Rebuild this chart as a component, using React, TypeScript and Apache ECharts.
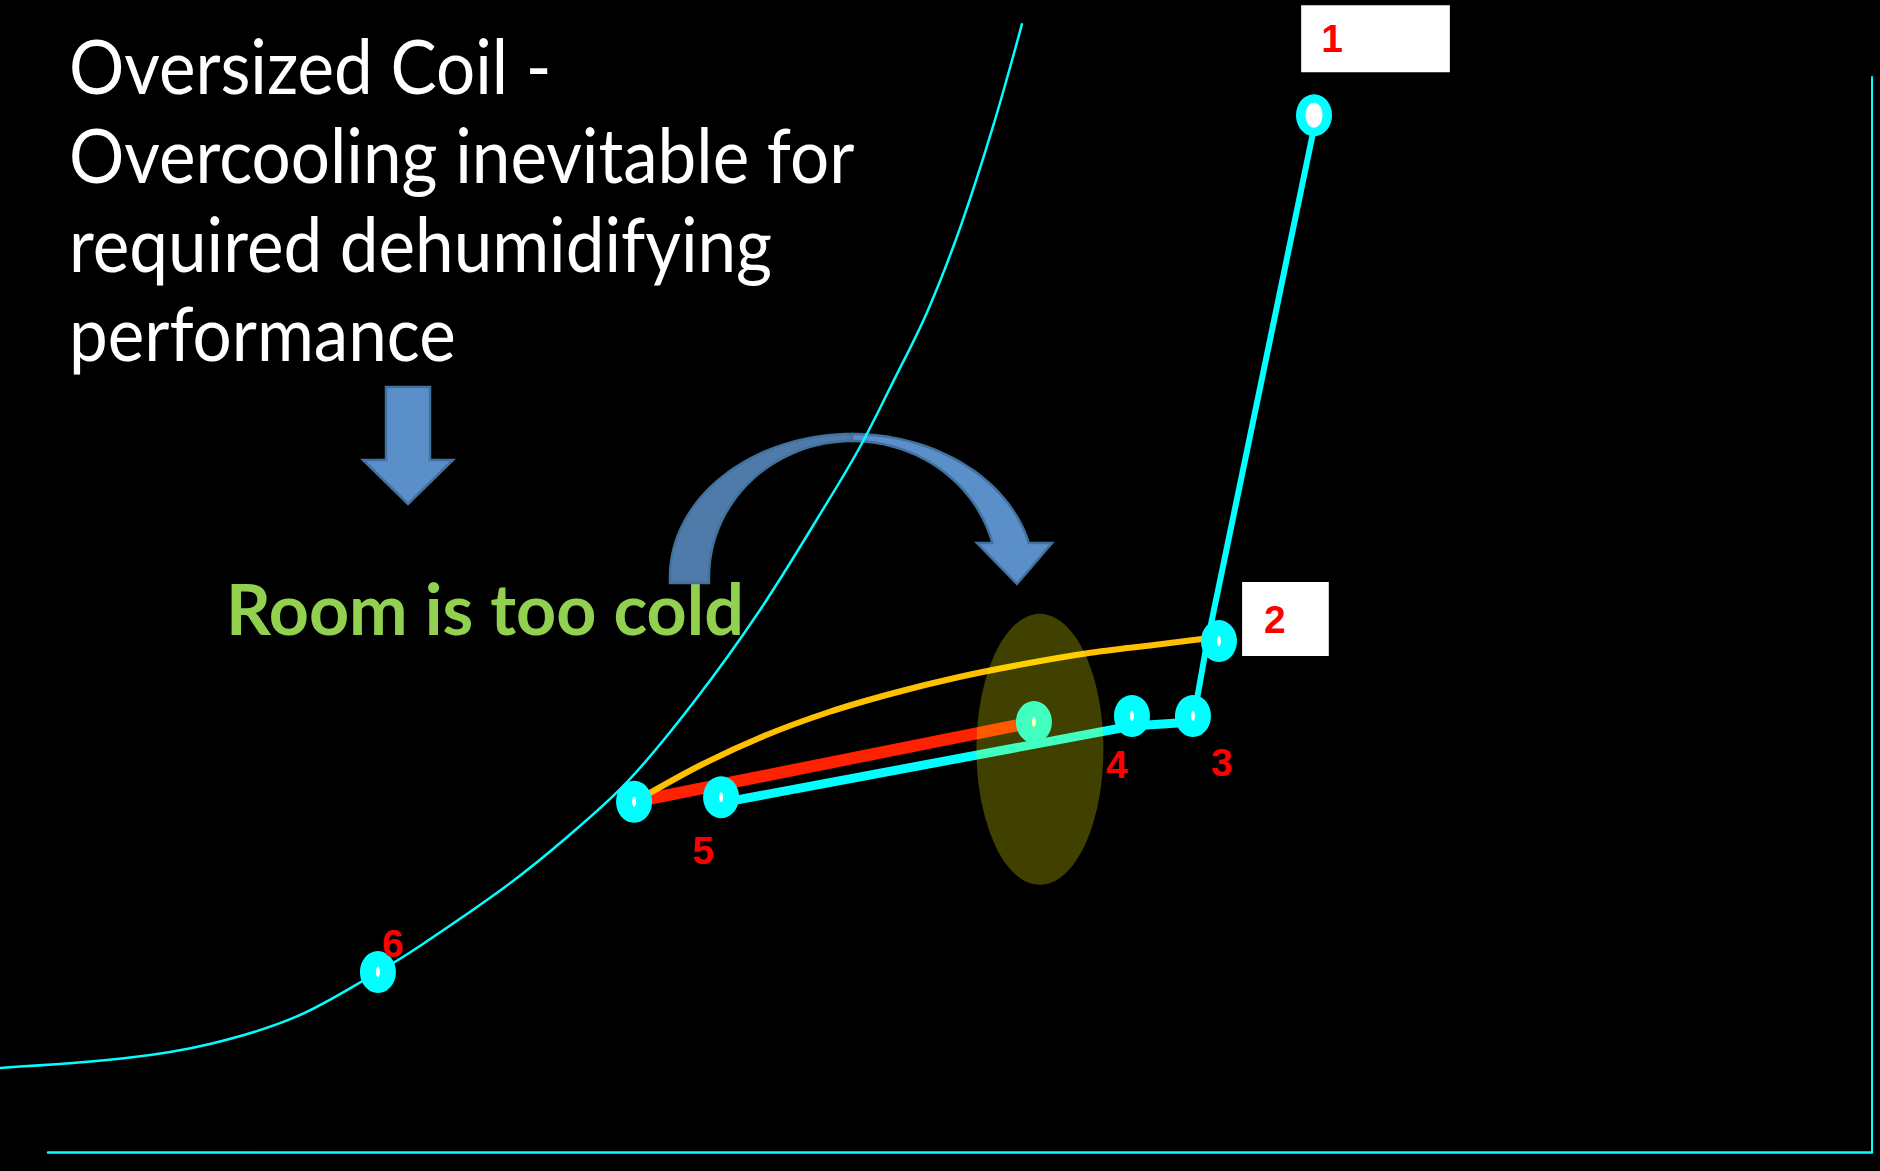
import React, { useEffect, useRef } from "react";
import * as echarts from "echarts";

// Saturation curve: dry-bulb temperature (°F) and humidity ratio (gr/lb)
const saturationT = [20.0, 26.73, 31.22, 35.77, 40.2, 42.5, 46.99, 50.14, 53.51, 57.04, 60.62, 64.2, 65.96, 67.73, 69.55, 71.31, 73.07, 74.62];
const saturationW = [14.6, 16.3, 18.75, 23.4, 31.25, 35.9, 46.0, 54.2, 64.2, 77.95, 94.1, 112.7, 122.4, 133.7, 145.8, 160.4, 178.0, 195.8];

// State points (numbered ones carry a label, the last two are unlabelled)
const stateNames = ["1", "2", "3", "4", "5", "6", "", ""];
const stateT = [90.23, 85.15, 83.76, 80.5, 58.54, 40.2, 53.89, 75.26];
const stateW = [180.0, 88.7, 75.7, 75.7, 61.6, 31.25, 60.8, 74.65];

// Process line 1 → 2 → 3 → 4 → 5
const processT = [90.34, 84.46, 83.76, 80.5, 58.54];
const processW = [179.5, 87.5, 74.65, 73.96, 60.6];

// Straight coil line (red) and reheat curve (yellow)
const coilT = [53.89, 75.26];
const coilW = [60.8, 74.65];
const reheatT = [53.89, 57.36, 60.83, 64.31, 67.78, 71.26, 74.73, 78.2, 81.68, 85.1];
const reheatW = [60.76, 67.01, 72.22, 76.39, 79.69, 82.47, 84.72, 86.63, 88.02, 89.41];

// Highlighted zone
const zoneT = [75.58];
const zoneW = [69.9];

const headline = [
  "Oversized Coil -",
  "Overcooling inevitable for",
  "required dehumidifying",
  "performance",
];
const callout = "Room is too cold";

const pairs = (xs: number[], ys: number[]) => xs.map((x, i) => [x, ys[i]]);

// Label placement per state point (pixel offsets from the marker centre)
const labelStyles: Record<string, any> = {
  "1": { offset: [61.5, -76.5], backgroundColor: "#ffffff", padding: [0, 107, 0, 20], lineHeight: 67 },
  "2": { offset: [66.5, -22], backgroundColor: "#ffffff", padding: [0, 43, 0, 22], lineHeight: 74 },
  "3": { offset: [29, 47] },
  "4": { offset: [-15, 49] },
  "5": { offset: [-18, 53] },
  "6": { offset: [15, -29] },
};

function arcPoints(cx: number, cy: number, rx: number, ry: number, a0: number, a1: number, n: number) {
  const pts: number[][] = [];
  for (let i = 0; i <= n; i++) {
    const a = a0 + ((a1 - a0) * i) / n;
    pts.push([cx + rx * Math.cos(a), cy - ry * Math.sin(a)]);
  }
  return pts;
}

// Curved "U-turn" arrow built from two elliptical bands
const ACX = 852;
const ACY = 577;
const backBand = [
  [670, 583],
  ...arcPoints(ACX, ACY, 182, 143, Math.PI, Math.PI / 2, 40),
  ...arcPoints(ACX, ACY, 143, 136, Math.PI / 2, Math.PI, 40),
  [709, 583],
];
const thetaOuter = Math.asin(34 / 143);
const thetaInner = Math.asin(34 / 136);
const frontBand = [
  ...arcPoints(ACX, ACY, 182, 143, Math.PI / 2, thetaOuter, 40),
  [1052, 543],
  [1017, 584],
  [977, 543],
  ...arcPoints(ACX, ACY, 145, 136, thetaInner, Math.PI / 2, 40),
];
const downArrow = [
  [386, 387], [430, 387], [430, 460], [453, 460], [408, 504], [363, 460], [386, 460],
];

export default function App() {
  const ref = useRef<HTMLDivElement>(null);

  useEffect(() => {
    document.body.style.margin = "0";
    document.body.style.background = "#000";
    const chart = echarts.init(ref.current!, undefined, { renderer: "svg" });

    const markerData = stateNames.map((name, i) => {
      const item: any = { name, value: [stateT[i], stateW[i]] };
      const ls = labelStyles[name];
      if (ls) {
        item.label = {
          show: true,
          position: "inside",
          formatter: name,
          color: "#FF0000",
          fontFamily: "Liberation Sans",
          fontWeight: "bold",
          fontSize: 39,
          ...ls,
        };
      }
      return item;
    });

    const glintData = stateNames.map((name, i) => ({
      value: [stateT[i], stateW[i]],
      symbolSize: i === 0 ? [17, 25] : [4, 10],
    }));

    const lineSeries = (name: string, data: number[][], color: string, width: number, smooth: boolean | number) => ({
      name,
      type: "line",
      xAxisIndex: 0,
      yAxisIndex: 0,
      data,
      smooth,
      showSymbol: false,
      silent: true,
      z: 3,
      lineStyle: { color, width, cap: "round", join: "round" },
    });

    chart.setOption({
      animation: false,
      backgroundColor: "#000000",
      grid: [
        { left: 0, right: 9, top: 0, bottom: 19 },
        { left: 48, right: 8, top: 77, bottom: 19 },
      ],
      xAxis: [
        { gridIndex: 0, type: "value", min: 20, max: 120, show: false },
        {
          gridIndex: 1, type: "value", min: 0, max: 1,
          axisLine: { show: true, onZero: false, lineStyle: { color: "#00FFFF", width: 2.5 } },
          axisTick: { show: false }, axisLabel: { show: false }, splitLine: { show: false },
        },
      ],
      yAxis: [
        { gridIndex: 0, type: "value", min: 0, max: 200, show: false },
        {
          gridIndex: 1, type: "value", min: 0, max: 1, position: "right",
          axisLine: { show: true, onZero: false, lineStyle: { color: "#00FFFF", width: 2 } },
          axisTick: { show: false }, axisLabel: { show: false }, splitLine: { show: false },
        },
      ],
      graphic: [
        ...headline.map((line, i) => ({
          type: "text",
          x: 69,
          y: 64 + i * 89,
          scaleX: 0.91,
          z: 1,
          silent: true,
          style: {
            text: line,
            fill: "#FFFFFF",
            fontSize: 76,
            fontFamily: "Lato",
            align: "left",
            verticalAlign: "middle",
          },
        })),
        {
          type: "text",
          x: 226,
          y: 608,
          z: 1,
          silent: true,
          style: {
            text: callout,
            fill: "#92D050",
            fontSize: 70,
            fontWeight: "bold",
            fontFamily: "Lato",
            align: "left",
            verticalAlign: "middle",
          },
        },
        {
          type: "polygon",
          z: 1,
          silent: true,
          shape: { points: downArrow },
          style: { fill: "#5B8FC9", stroke: "#41719C", lineWidth: 2.5 },
        },
        {
          type: "polygon",
          z: 1,
          silent: true,
          shape: { points: backBand },
          style: { fill: "#4E7BAA", stroke: "#41719C", lineWidth: 2.5 },
        },
        {
          type: "polygon",
          z: 1,
          silent: true,
          shape: { points: frontBand },
          style: { fill: "#5B8FC9", stroke: "#41719C", lineWidth: 2.5 },
        },
      ],
      series: [
        {
          ...lineSeries("Saturation", pairs(saturationT, saturationW), "#00FFFF", 2.5, 0.35),
          z: 2,
        },
        lineSeries("Process 1-3", pairs(processT.slice(0, 3), processW.slice(0, 3)), "#00FFFF", 6, false),
        lineSeries("Process 3-5", pairs(processT.slice(2), processW.slice(2)), "#00FFFF", 9, false),
        lineSeries("Coil", pairs(coilT, coilW), "#FF2200", 12, false),
        lineSeries("Reheat", pairs(reheatT, reheatW), "#FFC000", 6, 0.3),
        {
          name: "States",
          type: "scatter",
          xAxisIndex: 0, yAxisIndex: 0,
          data: markerData,
          symbol: "circle",
          symbolSize: [36, 42],
          silent: true,
          z: 4,
          itemStyle: { color: "#00FFFF", opacity: 1 },
          label: { show: false },
        },
        {
          name: "Glint",
          type: "scatter",
          xAxisIndex: 0, yAxisIndex: 0,
          data: glintData,
          symbol: "circle",
          silent: true,
          z: 5,
          itemStyle: { color: "#FFFFFF", opacity: 1 },
        },
        {
          name: "Zone",
          type: "scatter",
          xAxisIndex: 0, yAxisIndex: 0,
          data: pairs(zoneT, zoneW),
          symbol: "circle",
          symbolSize: [127, 271],
          silent: true,
          z: 6,
          itemStyle: { color: "rgba(255,255,0,0.25)", opacity: 1 },
        },
      ],
    });

    return () => chart.dispose();
  }, []);

  return <div ref={ref} style={{ width: 1880, height: 1171, background: "#000" }} />;
}
